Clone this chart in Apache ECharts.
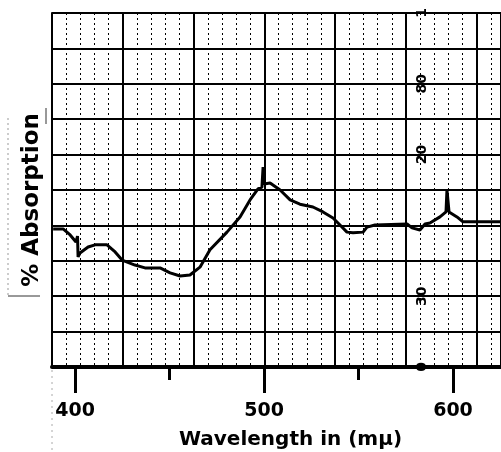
<!DOCTYPE html>
<html><head><meta charset="utf-8">
<script src="https://cdn.jsdelivr.net/npm/echarts@6/dist/echarts.min.js"></script>
<style>html,body{margin:0;padding:0;background:#fff}#c{width:501px;height:452px}</style>
</head><body><div id="c"></div>
<script>
// Wavelength (mμ) of traced points
const wavelengths = [388.4,393.7,397.4,400.5,401.3,401.6,402.6,406.9,410.6,416.9,421.2,424.9,431.7,437.0,445.0,450.3,455.6,460.8,466.1,471.4,480.4,487.3,492.6,496.8,498.9,499.5,500.0,503.2,508.5,513.8,519.0,525.9,531.2,536.5,540.2,543.9,547.1,552.4,554.5,558.7,575.7,578.3,582.5,585.2,587.8,593.1,596.3,596.8,597.9,602.1,605.3,625.4];
// Absorption in chart-paper divisions (0 = bottom edge, 10 = top edge)
const absorption = [3.90,3.90,3.73,3.53,3.70,3.11,3.22,3.39,3.45,3.45,3.25,3.02,2.88,2.80,2.80,2.66,2.57,2.60,2.82,3.31,3.81,4.24,4.72,5.03,5.08,5.65,5.17,5.20,5.00,4.72,4.60,4.52,4.38,4.21,4.01,3.81,3.79,3.81,3.95,4.01,4.04,3.93,3.87,4.04,4.07,4.24,4.38,5.00,4.38,4.24,4.10,4.10];
const majorTicks = [400,500,600];
const minorTicks = [450,550];
const paperValues = [0,2,6,8,10];
const paperLabels = ['0','30','20','80','1'];

const chart = echarts.init(document.getElementById('c'), null, {renderer:'canvas'});
const FONT = 'DejaVu Sans';
const xMin = 387.8, xMax = 625.4;
chart.setOption({
  animation:false,
  backgroundColor:'#fff',
  grid:{left:52, right:0, top:13, bottom:85, containLabel:false, outerBoundsMode:'none'},
  xAxis:[
    {type:'value', min:xMin, max:xMax, position:'bottom',
     axisLine:{show:true, lineStyle:{color:'#000', width:4}},
     axisTick:{show:true, customValues:majorTicks, length:26, lineStyle:{color:'#000', width:3}},
     axisLabel:{show:true, customValues:majorTicks, margin:35, color:'#000', fontFamily:FONT, fontWeight:'bold', fontSize:19},
     splitLine:{show:false},
     name:'Wavelength in (mμ)', nameLocation:'middle', nameGap:63,
     nameTextStyle:{color:'#000', fontFamily:FONT, fontWeight:'bold', fontSize:20, padding:[0,0,0,28]}},
    {type:'value', min:xMin, max:xMax, position:'bottom',
     axisLine:{show:false},
     axisTick:{show:true, customValues:minorTicks, length:13, lineStyle:{color:'#000', width:3}},
     axisLabel:{show:false}, splitLine:{show:false}},
    {type:'value', min:0, max:6.342, interval:1, position:'top',
     axisLine:{show:false}, axisTick:{show:false}, axisLabel:{show:false},
     splitLine:{show:true, lineStyle:{color:'#000', width:2}},
     minorTick:{show:false, splitNumber:5},
     minorSplitLine:{show:true, lineStyle:{color:'#000', width:1, type:[2,3]}}}
  ],
  yAxis:[
    {type:'value', min:0, max:10, interval:1, position:'left',
     axisLine:{show:true, lineStyle:{color:'#000', width:2}},
     axisTick:{show:false}, axisLabel:{show:false},
     splitLine:{show:true, lineStyle:{color:'#000', width:2}},
     name:'% Absorption', nameLocation:'middle', nameGap:8, nameRotate:90,
     nameTextStyle:{color:'#000', fontFamily:FONT, fontWeight:'bold', fontSize:23, padding:[0,20,0,0]}},
    {type:'value', min:0, max:10, position:'right', offset:-88,
     axisLine:{show:false}, axisTick:{show:false}, splitLine:{show:false},
     axisLabel:{show:true, customValues:paperValues, rotate:90, margin:2, color:'#000',
       fontFamily:FONT, fontWeight:'bold', fontSize:14,
       formatter:function(v){const i=paperValues.indexOf(v);return i>=0?paperLabels[i]:'';}}}
  ],
  graphic:[
    {type:'line', shape:{x1:8,y1:118,x2:8,y2:296}, style:{stroke:'#999', lineWidth:1, lineDash:[2,3]}},
    {type:'line', shape:{x1:8,y1:296,x2:40,y2:296}, style:{stroke:'#333', lineWidth:1}},
    {type:'line', shape:{x1:46,y1:108,x2:46,y2:124}, style:{stroke:'#333', lineWidth:1}},
    {type:'line', shape:{x1:52,y1:370,x2:52,y2:452}, style:{stroke:'#aaa', lineWidth:1, lineDash:[2,4]}}
  ],
  series:[{
    type:'line', xAxisIndex:0, yAxisIndex:0, showSymbol:false, symbol:'none', z:10,
    lineStyle:{color:'#000', width:3},
    data: wavelengths.map((w,i)=>[w, absorption[i]])
  }]
});
</script></body></html>
